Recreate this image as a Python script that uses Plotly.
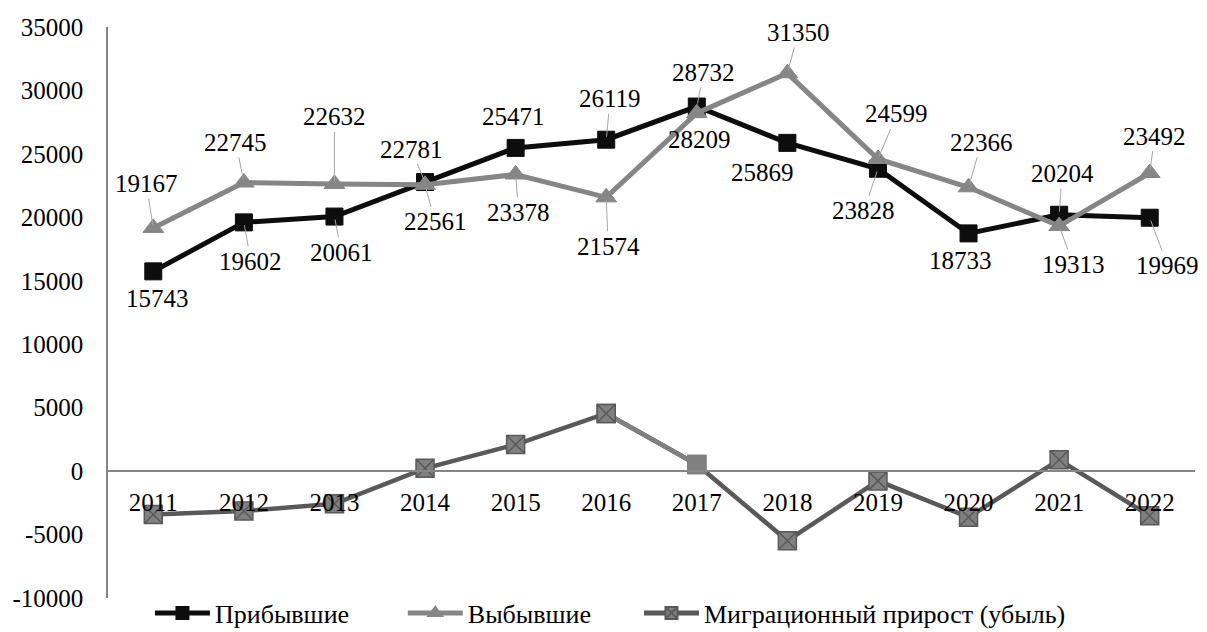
import plotly.graph_objects as go

years = [2011, 2012, 2013, 2014, 2015, 2016, 2017, 2018, 2019, 2020, 2021, 2022]
arrived = [15743, 19602, 20061, 22781, 25471, 26119, 28732, 25869, 23828, 18733, 20204, 19969]
departed = [19167, 22745, 22632, 22561, 23378, 21574, 28209, 31350, 24599, 22366, 19313, 23492]
migration = [-3424, -3143, -2571, 220, 2093, 4545, 523, -5481, -771, -3633, 891, -3523]
names = ["Прибывшие", "Выбывшие", "Миграционный прирост (убыль)"]
y_ticks = [-10000, -5000, 0, 5000, 10000, 15000, 20000, 25000, 30000, 35000]

# label placement (pixel offsets of label centre from point, leader line flag)
arr_pos = [(4, 27, 0), (7, 39, 1), (7, 36, 1), (-14, -33, 1), (-2, -31, 0), (4, -41, 1),
           (7, -34, 1), (-25, 30, 0), (-14, 42, 1), (-8, 27, 0), (3, -41, 1), (18, 48, 1)]
dep_pos = [(-7, -44, 1), (-8, -40, 1), (0, -67, 1), (10, 37, 1), (3, 38, 1), (2, 49, 1),
           (3, 26, 0), (11, -41, 1), (19, -45, 1), (13, -45, 1), (14, 38, 1), (5, -37, 1)]

FONT = "Liberation Serif"
BLACK = "#0d0d0d"
GRAY = "#868686"
DARK = "#595959"
MID = "#808080"

fig = go.Figure()
fig.add_trace(go.Scatter(
    x=years, y=arrived, name=names[0], mode="lines+markers", legend="legend",
    line=dict(color=BLACK, width=5),
    marker=dict(symbol="square", size=17, color=BLACK, line=dict(color=BLACK, width=1)),
))
fig.add_trace(go.Scatter(
    x=years, y=departed, name=names[1], mode="lines+markers", legend="legend2",
    line=dict(color=GRAY, width=5),
    marker=dict(symbol="triangle-up", size=18, color=GRAY, line=dict(color=GRAY, width=1)),
))
sym = ["square-x"] * len(years)
sym[6] = "square"
mline = [DARK] * len(years)
mline[6] = MID
fig.add_trace(go.Scatter(
    x=years, y=migration, name=names[2], mode="lines+markers", legend="legend3",
    line=dict(color=DARK, width=4.5),
    marker=dict(symbol=sym, size=18, color=MID, line=dict(color=mline, width=1.5)),
))
# lighter segment 2016-2017
fig.add_trace(go.Scatter(
    x=years[5:7], y=migration[5:7], mode="lines", showlegend=False,
    line=dict(color=MID, width=4.5), hoverinfo="skip",
))
fig.add_trace(go.Scatter(
    x=years[5:7], y=migration[5:7], mode="markers", showlegend=False,
    marker=dict(symbol=sym[5:7], size=18, color=MID, line=dict(color=mline[5:7], width=1.5)),
    hoverinfo="skip",
))

annotations = []
for series, pos in ((arrived, arr_pos), (departed, dep_pos)):
    for yr, v, (dx, dy, lead) in zip(years, series, pos):
        if lead:
            annotations.append(dict(
                x=yr, y=v, xref="x", yref="y", text=str(v), showarrow=True,
                ax=dx, ay=dy, arrowhead=0,
                arrowwidth=1, arrowcolor="#a6a6a6", standoff=3,
                font=dict(family=FONT, size=25, color="black"),
            ))
        else:
            annotations.append(dict(
                x=yr, y=v, xref="x", yref="y", text=str(v), showarrow=False,
                xshift=dx, yshift=-dy,
                font=dict(family=FONT, size=25, color="black"),
            ))

legend_common = dict(orientation="h", yanchor="middle", y=-15 / 571, xanchor="left",
                     itemwidth=55, itemsizing="constant",
                     font=dict(family=FONT, size=26, color="black"),
                     bgcolor="rgba(0,0,0,0)", borderwidth=0)

fig.update_layout(
    width=1207, height=632,
    margin=dict(l=108, r=12, t=27, b=34, autoexpand=False),
    paper_bgcolor="white", plot_bgcolor="white",
    font=dict(family=FONT, size=25, color="black"),
    showlegend=True,
    hovermode=False,
    legend=dict(x=0.0386, **legend_common),
    legend2=dict(x=0.2712, **legend_common),
    legend3=dict(x=0.4885, **legend_common),
    annotations=annotations,
    xaxis=dict(
        range=[2010.5, 2022.5], tickvals=years, ticktext=[str(y) for y in years],
        anchor="free", position=10000 / 45000, automargin=False,
        showline=True, linecolor=GRAY, linewidth=1.5, showgrid=False, zeroline=False,
        ticks="", ticklabelstandoff=9, tickfont=dict(family=FONT, size=25, color="black"),
    ),
    yaxis=dict(
        range=[-10000, 35000], tickvals=y_ticks, ticktext=[str(t) for t in y_ticks],
        automargin=False,
        showline=True, linecolor=GRAY, linewidth=1.5, showgrid=False, zeroline=False,
        ticks="", ticklabelstandoff=18, tickfont=dict(family=FONT, size=25, color="black"),
    ),
)

fig.write_html("out.html", config={"displayModeBar": False},
               post_script="document.body.style.margin='0';")
